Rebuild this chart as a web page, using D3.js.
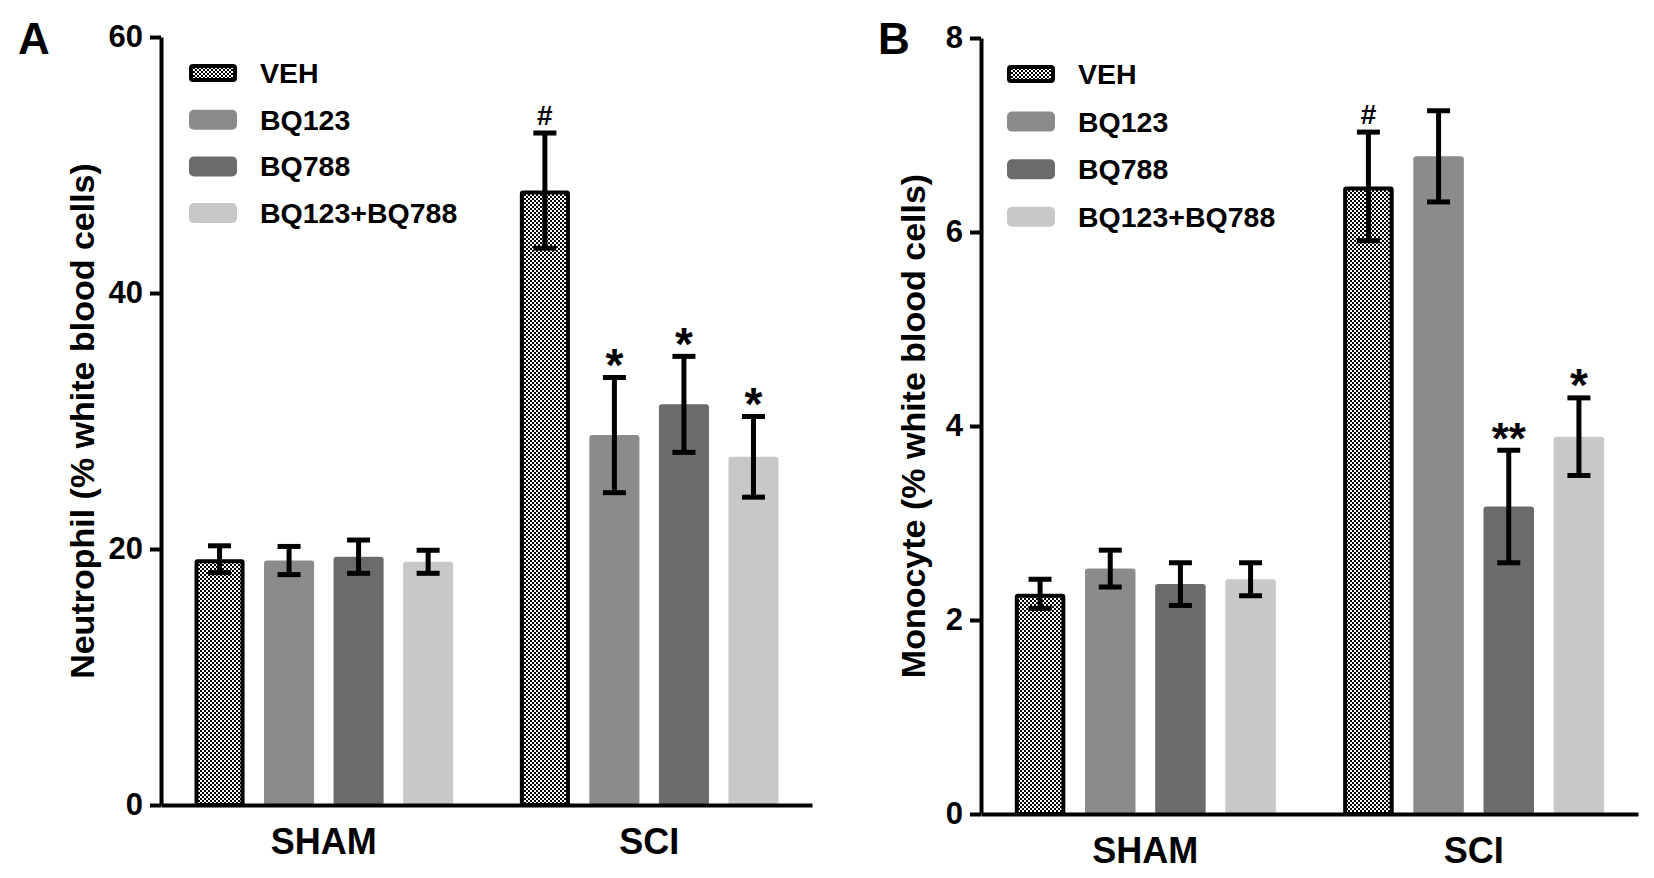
<!DOCTYPE html>
<html>
<head>
<meta charset="utf-8">
<script src="https://cdn.jsdelivr.net/npm/d3@7"></script>
<style>
  body { margin: 0; background: #fff; }
  svg text { font-family: "Liberation Sans", Arial, sans-serif; font-weight: bold; fill: #000; }
</style>
</head>
<body>
<div id="content"></div>
<script>
// groups and series
var groups = ["SHAM", "SCI"];
var series = ["VEH", "BQ123", "BQ788", "BQ123+BQ788"];

// panel A: neutrophil (% white blood cells), mean and SEM, [SHAM, SCI]
var neutrophilMean = [[19.2, 19.1, 19.4, 19.0], [48.0, 28.9, 31.3, 27.2]];
var neutrophilSem  = [[1.05, 1.1, 1.3, 0.9], [4.5, 4.5, 3.75, 3.15]];
var neutrophilMarks = [["", "", "", ""], ["#", "*", "*", "*"]];
var neutrophilTicks = [0, 20, 40, 60];

// panel B: monocyte (% white blood cells)
var monocyteMean = [[2.27, 2.53, 2.37, 2.42], [6.47, 6.78, 3.17, 3.89]];
var monocyteSem  = [[0.15, 0.19, 0.22, 0.17], [0.56, 0.47, 0.58, 0.40]];
var monocyteMarks = [["", "", "", ""], ["#", "", "**", "*"]];
var monocyteTicks = [0, 2, 4, 6, 8];

var fills = ["url(#checker)", "#8b8b8b", "#6b6b6b", "#c8c8c8"];

var svg = d3.select("#content")
  .append("svg")
    .attr("width", 1654)
    .attr("height", 878);

// checkerboard for the VEH bars
var pat = svg.append("defs").append("pattern")
    .attr("id", "checker")
    .attr("patternUnits", "userSpaceOnUse")
    .attr("width", 4)
    .attr("height", 4);
pat.append("rect").attr("width", 4).attr("height", 4).attr("fill", "#000");
pat.append("rect").attr("x", 0).attr("y", 0).attr("width", 2).attr("height", 2).attr("fill", "#fff");
pat.append("rect").attr("x", 2).attr("y", 2).attr("width", 2).attr("height", 2).attr("fill", "#fff");

function drawPanel(p) {
  var g = svg.append("g");

  var y = d3.scaleLinear()
      .domain([0, d3.max(p.ticks)])
      .range([p.bottom, p.top]);

  var x0 = d3.scaleBand()
      .domain(groups)
      .range([p.left, p.right])
      .paddingInner(0.205)
      .paddingOuter(0.103);

  var x1 = d3.scaleBand()
      .domain(series)
      .range([0, x0.bandwidth()])
      .paddingInner(0.28)
      .paddingOuter(0);

  // bars
  var rows = [];
  groups.forEach(function(gr, gi) {
    series.forEach(function(s, si) {
      rows.push({group: gr, series: s, si: si,
                 mean: p.mean[gi][si], sem: p.sem[gi][si], mark: p.marks[gi][si]});
    });
  });

  g.selectAll("rect.bar")
    .data(rows)
    .enter()
    .append("rect")
      .attr("class", "bar")
      .attr("x", function(d) { return x0(d.group) + x1(d.series) + (d.si == 0 ? 2 : 0); })
      .attr("width", function(d) { return x1.bandwidth() - (d.si == 0 ? 4 : 0); })
      .attr("y", function(d) { return y(d.mean) + (d.si == 0 ? 2 : 0); })
      .attr("height", function(d) { return y(0) - y(d.mean) - (d.si == 0 ? 2 : 0); })
      .attr("rx", function(d) { return d.si == 0 ? 1 : 3; })
      .attr("fill", function(d) { return fills[d.si]; })
      .attr("stroke", function(d) { return d.si == 0 ? "#000" : "none"; })
      .attr("stroke-width", 4);

  // error bars
  var cx = function(d) { return x0(d.group) + x1(d.series) + x1.bandwidth() / 2; };
  var err = g.selectAll("g.err")
    .data(rows)
    .enter()
    .append("g")
      .attr("class", "err")
      .attr("stroke", "#000")
      .attr("stroke-width", 5);
  err.append("line")
      .attr("x1", cx).attr("x2", cx)
      .attr("y1", function(d) { return y(d.mean + d.sem); })
      .attr("y2", function(d) { return y(d.mean - d.sem); });
  [1, -1].forEach(function(sign) {
    err.append("line")
        .attr("x1", function(d) { return cx(d) - 11.5; })
        .attr("x2", function(d) { return cx(d) + 11.5; })
        .attr("y1", function(d) { return y(d.mean + sign * d.sem); })
        .attr("y2", function(d) { return y(d.mean + sign * d.sem); });
  });

  // significance marks
  g.selectAll("text.mark")
    .data(rows.filter(function(d) { return d.mark != ""; }))
    .enter()
    .append("text")
      .attr("class", "mark")
      .attr("text-anchor", "middle")
      .attr("x", cx)
      .attr("y", function(d) {
        var top = y(d.mean + d.sem) - 2.5;
        return d.mark == "#" ? top - 6 : top + 6;
      })
      .style("font-size", function(d) { return d.mark == "#" ? "28px" : (d.mark == "**" ? "44px" : "46px"); })
      .text(function(d) { return d.mark; });

  // y axis
  var ya = g.append("g")
      .attr("transform", "translate(" + p.left + ",0)")
      .call(d3.axisLeft(y).tickValues(p.ticks).tickSize(11).tickSizeOuter(0).tickPadding(7));
  ya.selectAll("path, line").attr("stroke", "#000").attr("stroke-width", 4);
  ya.selectAll("text").style("font-size", "31px").attr("fill", "#000");

  // x axis
  var xa = g.append("g")
      .attr("transform", "translate(0," + p.bottom + ")")
      .call(d3.axisBottom(x0).tickSize(0).tickSizeOuter(0).tickPadding(23));
  xa.selectAll("path").attr("stroke", "#000").attr("stroke-width", 4);
  xa.selectAll("text").style("font-size", "36px").attr("fill", "#000");

  // y label
  g.append("text")
      .attr("transform", "translate(" + p.labelX + "," + (p.top + p.bottom) / 2 + ") rotate(-90)")
      .attr("text-anchor", "middle")
      .attr("dy", "0.35em")
      .style("font-size", "34px")
      .text(p.ylabel);

  // panel letter
  g.append("text")
      .attr("x", p.letterX)
      .attr("y", 54)
      .style("font-size", "44px")
      .text(p.letter);

  // legend
  var leg = g.selectAll("g.leg")
    .data(series)
    .enter()
    .append("g")
      .attr("class", "leg")
      .attr("transform", function(d, i) { return "translate(" + p.legX + "," + (p.top + 36 + i * p.legStep) + ")"; });
  leg.append("rect")
      .attr("x", function(d, i) { return i == 0 ? 2 : 0; })
      .attr("y", function(d, i) { return i == 0 ? -7 : -10; })
      .attr("width", function(d, i) { return i == 0 ? 44 : 48; })
      .attr("height", function(d, i) { return i == 0 ? 14 : 20; })
      .attr("rx", function(d, i) { return i == 0 ? 2 : 5; })
      .attr("fill", function(d, i) { return fills[i]; })
      .attr("stroke", function(d, i) { return i == 0 ? "#000" : "none"; })
      .attr("stroke-width", 4);
  leg.append("text")
      .attr("x", 71)
      .attr("y", 10)
      .style("font-size", "28.5px")
      .text(function(d) { return d; });
}

drawPanel({
  mean: neutrophilMean, sem: neutrophilSem, marks: neutrophilMarks, ticks: neutrophilTicks,
  left: 161, right: 812, top: 37, bottom: 805,
  ylabel: "Neutrophil (% white blood cells)", labelX: 82,
  letter: "A", letterX: 18, legX: 189, legStep: 46.7
});

drawPanel({
  mean: monocyteMean, sem: monocyteSem, marks: monocyteMarks, ticks: monocyteTicks,
  left: 981, right: 1638, top: 38, bottom: 814,
  ylabel: "Monocyte (% white blood cells)", labelX: 913,
  letter: "B", letterX: 878, legX: 1007, legStep: 47.6
});
</script>
</body>
</html>
